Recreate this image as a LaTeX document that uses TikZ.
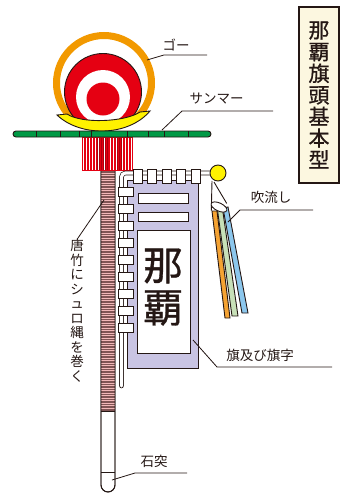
\documentclass[tikz,border=0pt]{standalone}
\usepackage{fontspec}
\usetikzlibrary{positioning}
\newfontfamily\jp{Noto Sans CJK JP}
\newfontfamily\jpm[FakeBold=0.8]{Noto Sans CJK JP}
\definecolor{mline}{rgb}{0.14, 0.09, 0.08}
\definecolor{morange}{rgb}{0.95, 0.6, 0}
\definecolor{mred}{rgb}{0.9, 0, 0.07}
\definecolor{myellow}{rgb}{1, 0.95, 0}
\definecolor{mgreen}{rgb}{0, 0.6, 0.27}
\definecolor{mlav}{rgb}{0.79, 0.77, 0.89}
\definecolor{mbrown}{rgb}{0.5, 0.33, 0.33}
\definecolor{mpink}{rgb}{0.95, 0.72, 0.72}
\definecolor{mcream}{rgb}{0.99, 0.97, 0.88}
\definecolor{sorange}{rgb}{0.96, 0.64, 0.2}
\definecolor{sgreen}{rgb}{0.78, 0.88, 0.72}
\definecolor{sblue}{rgb}{0.55, 0.78, 0.93}
\tikzset{outl/.style = {draw = mline, line width = 0.9}}
\tikzset{chi/.style = {outl, fill = white}}
\tikzset{leader/.style = {draw = mline, line width = 0.8}}
\tikzset{lbl/.style = {inner sep = 0, text = mline, font = \jp\fontsize{13.5}{14.5}\selectfont}}
\tikzset{vlbl/.style = {lbl, align = center}}
\tikzset{bigchar/.style = {inner sep = 0, text = mline, font = \jpm\fontsize{40}{42}\selectfont}}
\tikzset{titlebox/.style = {draw = mline, line width = 1.6, fill = mcream, align = center, inner sep = 0,
    minimum width = 40pt, minimum height = 176pt, text = mline, font = \jpm\fontsize{21}{21.6}\selectfont}}

\begin{document}
\begin{tikzpicture}[x=1pt, y=-1pt]
       \useasboundingbox (0, 0) rectangle (364, 504);

       % go: ring and ball
       \begin{scope}
              \clip (0, 0) rectangle (364, 117);
              \draw [morange, line width = 7] (104, 83) circle [radius = 47.5];
       \end{scope}
       \draw [outl, fill = mred] (103, 92) circle [radius = 38.5];
       \fill [white] (103, 97) circle [radius = 27];
       \fill [mred] (103, 99) circle [radius = 16.5];

       % sanma
       \draw [outl, fill = myellow] (57, 115) .. controls (80, 137) and (128, 137) .. (150, 111)
              -- (140, 112) .. controls (125, 122) and (82, 124) .. (67, 114) -- cycle;

       % pole, rope wrapped
       \draw [outl, fill = white] (101, 137) -- (101, 485) arc [start angle = 180, end angle = 0, radius = 7] -- (115, 137) -- cycle;
       \fill [mbrown] (101, 137) rectangle (115, 411);
       \foreach \y in {138, 140.5, ..., 410} \draw [mpink, line width = 0.7] (101, \y) -- (115, \y);
       \draw [outl] (101, 137) -- (101, 485) arc [start angle = 180, end angle = 0, radius = 7] -- (115, 137);
       \draw [outl] (101, 411) -- (115, 411);
       \draw [outl] (101, 472) -- (115, 472);

       % fringe
       \fill [mred] (82, 137) rectangle (133, 171);
       \foreach \x in {83, 86, ..., 132} \draw [white, line width = 0.25] (\x, 138) -- (\x, 170);
       \foreach \x in {97, 99, ..., 107, 117, 119, 121} \draw [mred!75!black, line width = 0.3] (\x, 138) -- (\x, 170);

       % bar
       \draw [outl, fill = mgreen, rounded corners = 3pt] (13, 131) rectangle (211, 137);
       \foreach \x in {36, 60, 79, 91, 127, 148, 164, 188} \draw [mline, line width = 0.7] (\x, 131) -- (\x, 137);

       % flag
       \draw [outl, fill = mlav] (127, 180) rectangle (198, 368);
       \draw [outl, fill = white] (138, 193) rectangle (188, 203);
       \draw [outl, fill = white] (138, 212) rectangle (188, 221);
       \draw [outl, fill = white] (137, 230) rectangle (190, 353);
       \node [bigchar] (na) at (163, 266) {那};
       \node [bigchar] (ha) at (163, 308) {覇};

       \draw [draw = mline, line width = 0.7, double = white, double distance = 3.2pt, rounded corners = 4pt, line cap = round]
              (218, 173) -- (121.5, 173) -- (121.5, 386);
       \foreach \i in {0, ..., 4} \draw [chi] ({133 + 14.5 * \i}, 169) rectangle +(9, 14);
       \foreach \i in {0, ..., 8} \draw [chi] (118, {187 + 17 * \i}) rectangle +(15, 9.5);

       % fukinagashi
       \draw [outl] (212, 181) -- (211.3, 210.6);
       \draw [outl] (214, 182) -- (226.7, 203.4);
       \draw [outl, fill = sorange] (212, 211) -- (217, 211) -- (230, 318) -- (225, 318) -- cycle;
       \draw [outl, fill = sgreen] (217.5, 210) -- (222.5, 209) -- (238, 316) -- (232, 316) -- cycle;
       \draw [outl, fill = sblue] (223, 208) -- (228, 207) -- (248, 313) -- (242, 313) -- cycle;
       \draw [outl, fill = white, rotate around = {-25:(219, 207)}] (219, 207) ellipse [x radius = 8.5, y radius = 4];
       \draw [outl, fill = myellow] (218, 173) circle [radius = 8];

       % labels
       \node [titlebox] (title) at (319, 95) {那\\覇\\旗\\頭\\基\\本\\型};

       \node [lbl] (go) at (176, 45) {ゴー};
       \coordinate (goa) at (147, 60);
       \coordinate (gob) at (164, 55);
       \coordinate (goc) at (207, 55);
       \draw [leader] (goa) -- (gob) -- (goc);

       \node [lbl] (sanma) at (216.5, 99) {サンマー};
       \coordinate (saa) at (162, 130);
       \coordinate (sab) at (182, 111);
       \coordinate (sac) at (273, 111);
       \draw [leader] (saa) -- (sab) -- (sac);

       \node [lbl] (fuki) at (271, 197) {吹流し};
       \coordinate (fua) at (228, 222);
       \coordinate (fub) at (240, 210);
       \coordinate (fuc) at (313, 210);
       \draw [leader] (fua) -- (fub) -- (fuc);

       \node [lbl] (hata) at (260, 355) {旗及び旗字};
       \coordinate (haa) at (193, 340);
       \coordinate (hab) at (217, 367);
       \coordinate (hac) at (332, 367);
       \draw [leader] (haa) -- (hab) -- (hac);

       \node [lbl] (ishi) at (154, 461) {石突};
       \coordinate (isa) at (112, 480);
       \coordinate (isb) at (135, 473);
       \coordinate (isc) at (187, 473);
       \draw [leader] (isa) -- (isb) -- (isc);

       \node [vlbl] (rope) at (77, 311) {唐\\竹\\に\\シ\\ュ\\ロ\\縄\\を\\巻\\く};
       \coordinate (roa) at (104, 200);
       \draw [leader] (roa) -- (rope.north);
\end{tikzpicture}
\end{document}
